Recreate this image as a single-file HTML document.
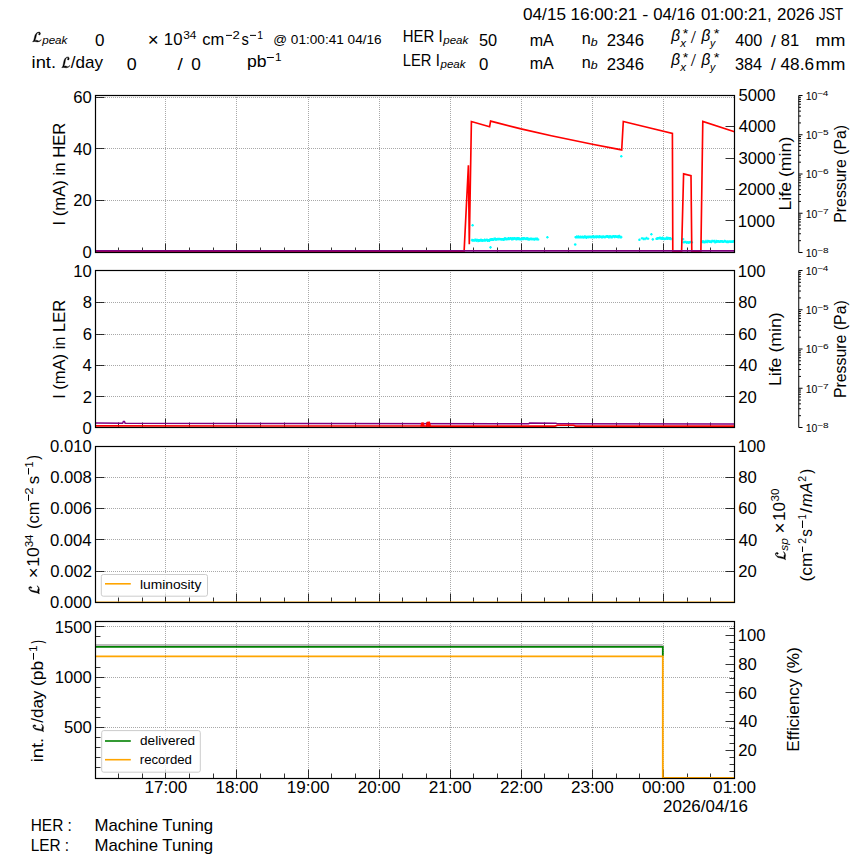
<!DOCTYPE html>
<html><head><meta charset="utf-8"><style>html,body{margin:0;padding:0;background:#fff;overflow:hidden}svg{display:block}</style></head><body>
<svg width="864" height="864" viewBox="0 0 864 864" font-family='"Liberation Sans", sans-serif'>
<rect width="864" height="864" fill="#fff"/>
<text x="523.01" y="19.90" font-size="17.25" textLength="43.01" lengthAdjust="spacingAndGlyphs">04/15</text>
<text x="570.39" y="19.90" font-size="17.25" textLength="66.94" lengthAdjust="spacingAndGlyphs">16:00:21</text>
<text x="642.21" y="19.90" font-size="17.25" textLength="6.08" lengthAdjust="spacingAndGlyphs">-</text>
<text x="653.13" y="19.90" font-size="17.25" textLength="41.94" lengthAdjust="spacingAndGlyphs">04/16</text>
<text x="700.92" y="19.90" font-size="17.25" textLength="70.82" lengthAdjust="spacingAndGlyphs">01:00:21,</text>
<text x="777.05" y="19.90" font-size="17.25" textLength="37.49" lengthAdjust="spacingAndGlyphs">2026</text>
<text x="818.80" y="19.90" font-size="17.25" textLength="24.33" lengthAdjust="spacingAndGlyphs">JST</text>
<path d="M63.6 -14.3 L65.3 -12.5 Q52.3 0.7 37.7 0.7 Q33.7 0.7 28.9 -0.4 Q21.8 -1.9 17.9 -1.9 Q15.7 -1.9 10.5 -1.0 Q5.3 -0.0 3.0 -0.0 L3.6 -2.4 Q9.1 -2.4 11.4 -11.7 L18.4 -40.1 Q20.1 -47.0 23.7 -52.4 Q27.3 -57.8 31.6 -60.8 Q36.0 -63.9 40.4 -65.5 Q44.8 -67.0 48.8 -67.0 Q53.8 -67.0 56.1 -63.8 Q58.5 -60.6 58.5 -56.0 Q58.5 -52.3 56.1 -50.0 Q53.8 -47.7 50.4 -47.7 Q48.2 -47.7 46.8 -49.2 Q45.4 -50.7 45.4 -52.8 Q45.4 -54.4 46.2 -55.5 Q47.0 -56.6 47.9 -56.9 Q48.8 -57.3 49.6 -57.9 Q50.4 -58.5 50.4 -59.2 Q50.4 -63.0 44.6 -63.0 Q39.4 -63.0 36.1 -59.1 Q32.8 -55.3 31.1 -48.9 Q29.4 -42.6 28.0 -35.7 Q26.7 -28.8 24.2 -21.3 Q21.7 -13.8 18.1 -9.2 L18.1 -8.8 Q21.3 -11.0 29.5 -11.0 Q34.8 -11.0 38.4 -8.5 Q42.1 -6.0 46.3 -6.0 Q54.8 -6.0 63.6 -14.3 Z" transform="translate(32.18 41.80) scale(0.1413 0.1448)" fill="#000" stroke="#000" stroke-width="2.6"/>
<text x="42.17" y="43.80" font-size="10.75" font-style="italic" textLength="25.25" lengthAdjust="spacingAndGlyphs">peak</text>
<text x="95.05" y="45.71" font-size="16.50" textLength="9.48" lengthAdjust="spacingAndGlyphs">0</text>
<text x="147.67" y="45.98" font-size="18.50" textLength="10.95" lengthAdjust="spacingAndGlyphs">×</text>
<text x="163.85" y="44.50" font-size="16.75" textLength="18.58" lengthAdjust="spacingAndGlyphs">10</text>
<text x="183.16" y="38.98" font-size="11.75" textLength="13.27" lengthAdjust="spacingAndGlyphs">34</text>
<text x="202.22" y="44.90" font-size="16.75" textLength="22.04" lengthAdjust="spacingAndGlyphs">cm</text>
<path d="M226.00 35.40H232.00" stroke="#000" stroke-width="1.0"/>
<text x="232.47" y="39.24" font-size="11.75" textLength="7.30" lengthAdjust="spacingAndGlyphs">2</text>
<text x="241.42" y="44.90" font-size="16.75" textLength="7.33" lengthAdjust="spacingAndGlyphs">s</text>
<path d="M250.00 35.40H256.00" stroke="#000" stroke-width="1.0"/>
<text x="257.22" y="38.98" font-size="11.75" textLength="5.81" lengthAdjust="spacingAndGlyphs">1</text>
<text x="273.25" y="44.36" font-size="13.00" textLength="108.44" lengthAdjust="spacingAndGlyphs">@ 01:00:41 04/16</text>
<text x="402.75" y="41.90" font-size="17.25" textLength="39.86" lengthAdjust="spacingAndGlyphs">HER I</text>
<text x="443.27" y="43.75" font-size="10.75" font-style="italic" textLength="25.06" lengthAdjust="spacingAndGlyphs">peak</text>
<text x="478.92" y="45.71" font-size="16.50" textLength="18.18" lengthAdjust="spacingAndGlyphs">50</text>
<text x="529.64" y="45.80" font-size="17.00" textLength="24.06" lengthAdjust="spacingAndGlyphs">mA</text>
<text x="581.81" y="43.90" font-size="16.75" textLength="9.02" lengthAdjust="spacingAndGlyphs">n</text>
<text x="590.75" y="45.80" font-size="10.25" font-style="italic" textLength="6.84" lengthAdjust="spacingAndGlyphs">b</text>
<text x="606.67" y="46.06" font-size="16.50" textLength="37.31" lengthAdjust="spacingAndGlyphs">2346</text>
<text x="671.36" y="41.46" font-size="16.00" font-style="italic" textLength="8.82" lengthAdjust="spacingAndGlyphs">β</text>
<text x="680.22" y="46.82" font-size="10.25" font-style="italic" textLength="5.79" lengthAdjust="spacingAndGlyphs">x</text>
<text x="682.80" y="37.96" font-size="13.00" textLength="5.50" lengthAdjust="spacingAndGlyphs">*</text>
<text x="691.57" y="42.61" font-size="17.00" font-style="italic" textLength="3.38" lengthAdjust="spacingAndGlyphs">/</text>
<text x="701.46" y="41.46" font-size="16.00" font-style="italic" textLength="8.82" lengthAdjust="spacingAndGlyphs">β</text>
<text x="710.08" y="46.81" font-size="10.25" font-style="italic" textLength="5.30" lengthAdjust="spacingAndGlyphs">y</text>
<text x="713.69" y="37.96" font-size="13.00" textLength="5.72" lengthAdjust="spacingAndGlyphs">*</text>
<text x="735.23" y="45.91" font-size="16.50" textLength="27.05" lengthAdjust="spacingAndGlyphs">400</text>
<text x="771.00" y="47.08" font-size="16.50" textLength="4.82" lengthAdjust="spacingAndGlyphs">/</text>
<text x="780.71" y="45.91" font-size="16.50" textLength="18.38" lengthAdjust="spacingAndGlyphs">81</text>
<text x="815.60" y="45.80" font-size="16.75" textLength="29.77" lengthAdjust="spacingAndGlyphs">mm</text>
<text x="31.58" y="67.80" font-size="17.00" textLength="24.49" lengthAdjust="spacingAndGlyphs">int.</text>
<path d="M63.6 -14.3 L65.3 -12.5 Q52.3 0.7 37.7 0.7 Q33.7 0.7 28.9 -0.4 Q21.8 -1.9 17.9 -1.9 Q15.7 -1.9 10.5 -1.0 Q5.3 -0.0 3.0 -0.0 L3.6 -2.4 Q9.1 -2.4 11.4 -11.7 L18.4 -40.1 Q20.1 -47.0 23.7 -52.4 Q27.3 -57.8 31.6 -60.8 Q36.0 -63.9 40.4 -65.5 Q44.8 -67.0 48.8 -67.0 Q53.8 -67.0 56.1 -63.8 Q58.5 -60.6 58.5 -56.0 Q58.5 -52.3 56.1 -50.0 Q53.8 -47.7 50.4 -47.7 Q48.2 -47.7 46.8 -49.2 Q45.4 -50.7 45.4 -52.8 Q45.4 -54.4 46.2 -55.5 Q47.0 -56.6 47.9 -56.9 Q48.8 -57.3 49.6 -57.9 Q50.4 -58.5 50.4 -59.2 Q50.4 -63.0 44.6 -63.0 Q39.4 -63.0 36.1 -59.1 Q32.8 -55.3 31.1 -48.9 Q29.4 -42.6 28.0 -35.7 Q26.7 -28.8 24.2 -21.3 Q21.7 -13.8 18.1 -9.2 L18.1 -8.8 Q21.3 -11.0 29.5 -11.0 Q34.8 -11.0 38.4 -8.5 Q42.1 -6.0 46.3 -6.0 Q54.8 -6.0 63.6 -14.3 Z" transform="translate(61.40 67.69) scale(0.1332 0.1610)" fill="#000" stroke="#000" stroke-width="2.6"/>
<text x="70.80" y="67.80" font-size="17.00" textLength="32.27" lengthAdjust="spacingAndGlyphs">/day</text>
<text x="126.82" y="69.96" font-size="16.50" textLength="9.94" lengthAdjust="spacingAndGlyphs">0</text>
<text x="177.60" y="70.38" font-size="16.50" textLength="5.32" lengthAdjust="spacingAndGlyphs">/</text>
<text x="191.25" y="69.81" font-size="16.50" textLength="9.60" lengthAdjust="spacingAndGlyphs">0</text>
<text x="246.97" y="66.75" font-size="16.50" textLength="19.54" lengthAdjust="spacingAndGlyphs">pb</text>
<path d="M266.90 57.50H273.90" stroke="#000" stroke-width="1.0"/>
<text x="275.02" y="60.98" font-size="11.75" textLength="6.58" lengthAdjust="spacingAndGlyphs">1</text>
<text x="402.77" y="65.70" font-size="17.25" textLength="36.99" lengthAdjust="spacingAndGlyphs">LER I</text>
<text x="440.47" y="67.50" font-size="10.75" font-style="italic" textLength="25.06" lengthAdjust="spacingAndGlyphs">peak</text>
<text x="478.96" y="69.91" font-size="16.50" textLength="9.36" lengthAdjust="spacingAndGlyphs">0</text>
<text x="529.64" y="69.40" font-size="17.00" textLength="24.06" lengthAdjust="spacingAndGlyphs">mA</text>
<text x="581.81" y="67.50" font-size="16.75" textLength="9.02" lengthAdjust="spacingAndGlyphs">n</text>
<text x="590.75" y="69.40" font-size="10.25" font-style="italic" textLength="6.84" lengthAdjust="spacingAndGlyphs">b</text>
<text x="606.67" y="69.56" font-size="16.50" textLength="37.31" lengthAdjust="spacingAndGlyphs">2346</text>
<text x="671.36" y="65.26" font-size="16.00" font-style="italic" textLength="8.82" lengthAdjust="spacingAndGlyphs">β</text>
<text x="680.22" y="70.62" font-size="10.25" font-style="italic" textLength="5.79" lengthAdjust="spacingAndGlyphs">x</text>
<text x="682.80" y="61.76" font-size="13.00" textLength="5.50" lengthAdjust="spacingAndGlyphs">*</text>
<text x="691.57" y="66.41" font-size="17.00" font-style="italic" textLength="3.38" lengthAdjust="spacingAndGlyphs">/</text>
<text x="701.46" y="65.26" font-size="16.00" font-style="italic" textLength="8.82" lengthAdjust="spacingAndGlyphs">β</text>
<text x="710.08" y="70.61" font-size="10.25" font-style="italic" textLength="5.30" lengthAdjust="spacingAndGlyphs">y</text>
<text x="713.69" y="61.76" font-size="13.00" textLength="5.72" lengthAdjust="spacingAndGlyphs">*</text>
<text x="734.98" y="69.66" font-size="16.50" textLength="27.18" lengthAdjust="spacingAndGlyphs">384</text>
<text x="771.00" y="70.03" font-size="16.50" textLength="43.05" lengthAdjust="spacingAndGlyphs">/ 48.6</text>
<text x="815.60" y="69.60" font-size="16.75" textLength="29.77" lengthAdjust="spacingAndGlyphs">mm</text>
<path d="M165.50 97V252.50 M236.50 97V252.50 M308.50 97V252.50 M379.50 97V252.50 M450.50 97V252.50 M521.50 97V252.50 M592.50 97V252.50 M663.50 97V252.50 M97 200.50H734.50 M97 148.50H734.50 M97 97.50H734.50" stroke="#a8a8a8" stroke-width="1" stroke-dasharray="1 1" fill="none"/>
<path d="M118.50 252.50v-5 M142.50 252.50v-5 M165.50 252.50v-9 M189.50 252.50v-5 M213.50 252.50v-5 M236.50 252.50v-9 M260.50 252.50v-5 M284.50 252.50v-5 M308.50 252.50v-9 M331.50 252.50v-5 M355.50 252.50v-5 M379.50 252.50v-9 M402.50 252.50v-5 M426.50 252.50v-5 M450.50 252.50v-9 M473.50 252.50v-5 M497.50 252.50v-5 M521.50 252.50v-9 M544.50 252.50v-5 M568.50 252.50v-5 M592.50 252.50v-9 M616.50 252.50v-5 M639.50 252.50v-5 M663.50 252.50v-9 M687.50 252.50v-5 M710.50 252.50v-5" stroke="#000" stroke-width="0.8" fill="none"/>
<path d="M95.50 200.50h9 M95.50 148.50h9 M95.50 97.50h9" stroke="#000" stroke-width="0.8" fill="none"/>
<path d="M734.50 220.50h-9 M734.50 189.50h-9 M734.50 158.50h-9 M734.50 126.50h-9" stroke="#000" stroke-width="0.8" fill="none"/>
<path d="M470.7 240.1h2.6M472.0 238.8v2.6 M471.3 240.4h2.6M472.6 239.1v2.6 M471.9 240.2h2.6M473.2 238.9v2.6 M472.5 240.5h2.6M473.8 239.2v2.6 M473.1 240.5h2.6M474.4 239.2v2.6 M473.7 239.9h2.6M475.0 238.6v2.6 M474.3 239.8h2.6M475.6 238.5v2.6 M474.9 240.7h2.6M476.2 239.4v2.6 M475.5 240.1h2.6M476.8 238.8v2.6 M476.1 240.0h2.6M477.4 238.7v2.6 M476.7 240.9h2.6M478.0 239.6v2.6 M477.3 240.3h2.6M478.6 239.0v2.6 M477.9 240.7h2.6M479.2 239.4v2.6 M478.5 240.3h2.6M479.8 239.0v2.6 M479.1 240.5h2.6M480.4 239.2v2.6 M479.7 239.9h2.6M481.0 238.6v2.6 M480.3 240.4h2.6M481.6 239.1v2.6 M480.9 240.7h2.6M482.2 239.4v2.6 M481.5 240.3h2.6M482.8 239.0v2.6 M482.1 240.5h2.6M483.4 239.2v2.6 M482.7 240.5h2.6M484.0 239.2v2.6 M483.3 239.8h2.6M484.6 238.5v2.6 M483.9 240.5h2.6M485.2 239.2v2.6 M484.5 240.3h2.6M485.8 239.0v2.6 M485.1 240.0h2.6M486.4 238.7v2.6 M485.7 239.7h2.6M487.0 238.4v2.6 M486.3 240.6h2.6M487.6 239.3v2.6 M486.9 240.2h2.6M488.2 238.9v2.6 M487.5 240.5h2.6M488.8 239.2v2.6 M488.1 240.6h2.6M489.4 239.3v2.6 M488.7 239.6h2.6M490.0 238.3v2.6 M489.3 239.8h2.6M490.6 238.5v2.6 M489.9 239.3h2.6M491.2 238.0v2.6 M490.5 239.7h2.6M491.8 238.4v2.6 M491.1 239.3h2.6M492.4 238.0v2.6 M491.7 239.8h2.6M493.0 238.5v2.6 M492.3 239.7h2.6M493.6 238.4v2.6 M492.9 238.8h2.6M494.2 237.5v2.6 M493.5 238.9h2.6M494.8 237.6v2.6 M494.1 238.9h2.6M495.4 237.6v2.6 M494.7 239.8h2.6M496.0 238.5v2.6 M495.3 239.2h2.6M496.6 237.9v2.6 M495.9 239.3h2.6M497.2 238.0v2.6 M496.5 239.0h2.6M497.8 237.7v2.6 M497.1 239.2h2.6M498.4 237.9v2.6 M497.7 239.0h2.6M499.0 237.7v2.6 M498.3 239.0h2.6M499.6 237.7v2.6 M498.9 239.2h2.6M500.2 237.9v2.6 M499.5 239.2h2.6M500.8 237.9v2.6 M500.1 239.5h2.6M501.4 238.2v2.6 M500.7 239.3h2.6M502.0 238.0v2.6 M501.3 239.5h2.6M502.6 238.2v2.6 M501.9 239.4h2.6M503.2 238.1v2.6 M502.5 239.6h2.6M503.8 238.3v2.6 M503.1 239.2h2.6M504.4 237.9v2.6 M503.7 238.2h2.6M505.0 236.9v2.6 M504.3 239.0h2.6M505.6 237.7v2.6 M504.9 239.1h2.6M506.2 237.8v2.6 M505.5 239.1h2.6M506.8 237.8v2.6 M506.1 238.7h2.6M507.4 237.4v2.6 M506.7 238.9h2.6M508.0 237.6v2.6 M507.3 238.3h2.6M508.6 237.0v2.6 M507.9 239.0h2.6M509.2 237.7v2.6 M508.5 238.7h2.6M509.8 237.4v2.6 M509.1 238.4h2.6M510.4 237.1v2.6 M509.7 238.2h2.6M511.0 236.9v2.6 M510.3 239.1h2.6M511.6 237.8v2.6 M510.9 239.2h2.6M512.2 237.9v2.6 M511.5 238.2h2.6M512.8 236.9v2.6 M512.1 239.0h2.6M513.4 237.7v2.6 M512.7 238.6h2.6M514.0 237.3v2.6 M513.3 238.3h2.6M514.6 237.0v2.6 M513.9 238.5h2.6M515.2 237.2v2.6 M514.5 239.0h2.6M515.8 237.7v2.6 M515.1 239.1h2.6M516.4 237.8v2.6 M515.7 238.2h2.6M517.0 236.9v2.6 M516.3 238.9h2.6M517.6 237.6v2.6 M516.9 238.3h2.6M518.2 237.0v2.6 M517.5 239.0h2.6M518.8 237.7v2.6 M518.1 238.6h2.6M519.4 237.3v2.6 M518.7 239.2h2.6M520.0 237.9v2.6 M519.3 239.3h2.6M520.6 238.0v2.6 M519.9 238.8h2.6M521.2 237.5v2.6 M520.5 239.3h2.6M521.8 238.0v2.6 M521.1 238.6h2.6M522.4 237.3v2.6 M521.7 238.3h2.6M523.0 237.0v2.6 M522.3 238.9h2.6M523.6 237.6v2.6 M522.9 238.3h2.6M524.2 237.0v2.6 M523.5 238.5h2.6M524.8 237.2v2.6 M524.1 238.7h2.6M525.4 237.4v2.6 M524.7 239.0h2.6M526.0 237.7v2.6 M525.3 238.5h2.6M526.6 237.2v2.6 M525.9 238.4h2.6M527.2 237.1v2.6 M526.5 239.3h2.6M527.8 238.0v2.6 M527.1 238.7h2.6M528.4 237.4v2.6 M527.7 239.4h2.6M529.0 238.1v2.6 M528.3 239.3h2.6M529.6 238.0v2.6 M528.9 238.8h2.6M530.2 237.5v2.6 M529.5 238.9h2.6M530.8 237.6v2.6 M530.1 238.9h2.6M531.4 237.6v2.6 M530.7 239.1h2.6M532.0 237.8v2.6 M531.3 239.0h2.6M532.6 237.7v2.6 M531.9 239.0h2.6M533.2 237.7v2.6 M532.5 239.1h2.6M533.8 237.8v2.6 M533.1 239.4h2.6M534.4 238.1v2.6 M533.7 239.0h2.6M535.0 237.7v2.6 M534.3 238.9h2.6M535.6 237.6v2.6 M534.9 239.2h2.6M536.2 237.9v2.6 M535.5 238.7h2.6M536.8 237.4v2.6 M536.1 238.8h2.6M537.4 237.5v2.6 M536.7 239.5h2.6M538.0 238.2v2.6 M574.3 237.2h2.6M575.6 235.9v2.6 M574.9 237.2h2.6M576.2 235.9v2.6 M575.5 236.6h2.6M576.8 235.3v2.6 M576.1 237.1h2.6M577.4 235.8v2.6 M576.7 237.3h2.6M578.0 236.0v2.6 M577.3 236.6h2.6M578.6 235.3v2.6 M577.9 237.3h2.6M579.2 236.0v2.6 M578.5 237.3h2.6M579.8 236.0v2.6 M579.1 236.7h2.6M580.4 235.4v2.6 M579.7 237.3h2.6M581.0 236.0v2.6 M580.3 237.1h2.6M581.6 235.8v2.6 M580.9 237.3h2.6M582.2 236.0v2.6 M581.5 236.9h2.6M582.8 235.6v2.6 M582.1 237.3h2.6M583.4 236.0v2.6 M582.7 237.4h2.6M584.0 236.1v2.6 M583.3 236.6h2.6M584.6 235.3v2.6 M583.9 236.6h2.6M585.2 235.3v2.6 M584.5 237.3h2.6M585.8 236.0v2.6 M585.1 237.6h2.6M586.4 236.3v2.6 M585.7 236.8h2.6M587.0 235.5v2.6 M586.3 237.0h2.6M587.6 235.7v2.6 M586.9 237.1h2.6M588.2 235.8v2.6 M587.5 236.8h2.6M588.8 235.5v2.6 M588.1 236.9h2.6M589.4 235.6v2.6 M588.7 236.8h2.6M590.0 235.5v2.6 M589.3 236.9h2.6M590.6 235.6v2.6 M589.9 237.1h2.6M591.2 235.8v2.6 M590.5 236.8h2.6M591.8 235.5v2.6 M591.1 236.8h2.6M592.4 235.5v2.6 M591.7 237.3h2.6M593.0 236.0v2.6 M592.3 236.4h2.6M593.6 235.1v2.6 M592.9 237.0h2.6M594.2 235.7v2.6 M593.5 237.2h2.6M594.8 235.9v2.6 M594.1 236.7h2.6M595.4 235.4v2.6 M594.7 236.6h2.6M596.0 235.3v2.6 M595.3 237.3h2.6M596.6 236.0v2.6 M595.9 236.6h2.6M597.2 235.3v2.6 M596.5 236.6h2.6M597.8 235.3v2.6 M597.1 236.8h2.6M598.4 235.5v2.6 M597.7 237.1h2.6M599.0 235.8v2.6 M598.3 236.4h2.6M599.6 235.1v2.6 M598.9 236.7h2.6M600.2 235.4v2.6 M599.5 236.7h2.6M600.8 235.4v2.6 M600.1 237.2h2.6M601.4 235.9v2.6 M600.7 236.8h2.6M602.0 235.5v2.6 M601.3 237.2h2.6M602.6 235.9v2.6 M601.9 236.5h2.6M603.2 235.2v2.6 M602.5 236.7h2.6M603.8 235.4v2.6 M603.1 237.0h2.6M604.4 235.7v2.6 M603.7 237.2h2.6M605.0 235.9v2.6 M604.3 236.8h2.6M605.6 235.5v2.6 M604.9 236.5h2.6M606.2 235.2v2.6 M605.5 236.4h2.6M606.8 235.1v2.6 M606.1 236.8h2.6M607.4 235.5v2.6 M606.7 236.4h2.6M608.0 235.1v2.6 M607.3 237.1h2.6M608.6 235.8v2.6 M607.9 237.1h2.6M609.2 235.8v2.6 M608.5 236.4h2.6M609.8 235.1v2.6 M609.1 236.5h2.6M610.4 235.2v2.6 M609.7 237.1h2.6M611.0 235.8v2.6 M610.3 236.9h2.6M611.6 235.6v2.6 M610.9 237.1h2.6M612.2 235.8v2.6 M611.5 236.5h2.6M612.8 235.2v2.6 M612.1 236.3h2.6M613.4 235.0v2.6 M612.7 236.5h2.6M614.0 235.2v2.6 M613.3 237.0h2.6M614.6 235.7v2.6 M613.9 236.4h2.6M615.2 235.1v2.6 M614.5 236.5h2.6M615.8 235.2v2.6 M615.1 236.6h2.6M616.4 235.3v2.6 M615.7 236.6h2.6M617.0 235.3v2.6 M616.3 236.5h2.6M617.6 235.2v2.6 M616.9 237.1h2.6M618.2 235.8v2.6 M617.5 236.3h2.6M618.8 235.0v2.6 M618.1 236.1h2.6M619.4 234.8v2.6 M618.7 237.1h2.6M620.0 235.8v2.6 M619.3 237.0h2.6M620.6 235.7v2.6 M619.9 237.1h2.6M621.2 235.8v2.6 M640.7 238.3h2.6M642.0 237.0v2.6 M642.2 238.9h2.6M643.5 237.6v2.6 M643.7 238.9h2.6M645.0 237.6v2.6 M645.2 238.1h2.6M646.5 236.8v2.6 M646.7 238.7h2.6M648.0 237.4v2.6 M655.2 238.8h2.6M656.5 237.5v2.6 M655.8 238.6h2.6M657.1 237.3v2.6 M656.4 238.4h2.6M657.7 237.1v2.6 M657.0 238.2h2.6M658.3 236.9v2.6 M657.6 238.2h2.6M658.9 236.9v2.6 M658.2 238.1h2.6M659.5 236.8v2.6 M658.8 237.9h2.6M660.1 236.6v2.6 M659.4 238.5h2.6M660.7 237.2v2.6 M660.0 238.2h2.6M661.3 236.9v2.6 M660.6 238.7h2.6M661.9 237.4v2.6 M661.2 237.9h2.6M662.5 236.6v2.6 M661.8 238.8h2.6M663.1 237.5v2.6 M662.4 238.6h2.6M663.7 237.3v2.6 M663.0 238.9h2.6M664.3 237.6v2.6 M663.6 238.8h2.6M664.9 237.5v2.6 M664.2 238.8h2.6M665.5 237.5v2.6 M664.8 238.5h2.6M666.1 237.2v2.6 M665.4 237.9h2.6M666.7 236.6v2.6 M666.0 238.7h2.6M667.3 237.4v2.6 M666.6 238.0h2.6M667.9 236.7v2.6 M667.2 238.2h2.6M668.5 236.9v2.6 M667.8 238.6h2.6M669.1 237.3v2.6 M668.4 238.4h2.6M669.7 237.1v2.6 M669.0 238.3h2.6M670.3 237.0v2.6 M669.6 238.9h2.6M670.9 237.6v2.6 M682.5 242.3h2.6M683.8 241.0v2.6 M683.5 242.0h2.6M684.8 240.7v2.6 M684.5 242.0h2.6M685.8 240.7v2.6 M685.5 242.7h2.6M686.8 241.4v2.6 M686.5 242.3h2.6M687.8 241.0v2.6 M687.5 242.6h2.6M688.8 241.3v2.6 M688.5 242.2h2.6M689.8 240.9v2.6 M689.5 242.0h2.6M690.8 240.7v2.6 M690.5 242.4h2.6M691.8 241.1v2.6 M701.1 241.9h2.6M702.4 240.6v2.6 M701.7 241.2h2.6M703.0 239.9v2.6 M702.3 241.9h2.6M703.6 240.6v2.6 M702.9 242.1h2.6M704.2 240.8v2.6 M703.5 241.9h2.6M704.8 240.6v2.6 M704.1 242.0h2.6M705.4 240.7v2.6 M704.7 241.1h2.6M706.0 239.8v2.6 M705.3 241.7h2.6M706.6 240.4v2.6 M705.9 242.0h2.6M707.2 240.7v2.6 M706.5 241.1h2.6M707.8 239.8v2.6 M707.1 241.3h2.6M708.4 240.0v2.6 M707.7 241.3h2.6M709.0 240.0v2.6 M708.3 241.6h2.6M709.6 240.3v2.6 M708.9 241.5h2.6M710.2 240.2v2.6 M709.5 241.6h2.6M710.8 240.3v2.6 M710.1 241.9h2.6M711.4 240.6v2.6 M710.7 241.1h2.6M712.0 239.8v2.6 M711.3 241.1h2.6M712.6 239.8v2.6 M711.9 241.2h2.6M713.2 239.9v2.6 M712.5 241.2h2.6M713.8 239.9v2.6 M713.1 241.1h2.6M714.4 239.8v2.6 M713.7 242.1h2.6M715.0 240.8v2.6 M714.3 242.0h2.6M715.6 240.7v2.6 M714.9 241.1h2.6M716.2 239.8v2.6 M715.5 241.6h2.6M716.8 240.3v2.6 M716.1 241.4h2.6M717.4 240.1v2.6 M716.7 241.4h2.6M718.0 240.1v2.6 M717.3 241.4h2.6M718.6 240.1v2.6 M717.9 241.8h2.6M719.2 240.5v2.6 M718.5 241.7h2.6M719.8 240.4v2.6 M719.1 241.4h2.6M720.4 240.1v2.6 M719.7 241.3h2.6M721.0 240.0v2.6 M720.3 241.4h2.6M721.6 240.1v2.6 M720.9 241.2h2.6M722.2 239.9v2.6 M721.5 241.7h2.6M722.8 240.4v2.6 M722.1 241.8h2.6M723.4 240.5v2.6 M722.7 241.5h2.6M724.0 240.2v2.6 M723.3 241.1h2.6M724.6 239.8v2.6 M723.9 241.2h2.6M725.2 239.9v2.6 M724.5 241.5h2.6M725.8 240.2v2.6 M725.1 241.7h2.6M726.4 240.4v2.6 M725.7 241.9h2.6M727.0 240.6v2.6 M726.3 241.5h2.6M727.6 240.2v2.6 M726.9 241.9h2.6M728.2 240.6v2.6 M727.5 241.7h2.6M728.8 240.4v2.6 M728.1 241.5h2.6M729.4 240.2v2.6 M728.7 241.5h2.6M730.0 240.2v2.6 M729.3 241.6h2.6M730.6 240.3v2.6 M729.9 241.8h2.6M731.2 240.5v2.6 M730.5 241.5h2.6M731.8 240.2v2.6 M731.1 241.8h2.6M732.4 240.5v2.6 M731.7 241.6h2.6M733.0 240.3v2.6 M732.3 241.3h2.6M733.6 240.0v2.6 M471.3 225.3h2.6M472.6 224.0v2.6 M489.2 247.4h2.6M490.5 246.1v2.6 M546.1 237.3h2.6M547.4 236.0v2.6 M573.9 244.5h2.6M575.2 243.2v2.6 M620.0 156.3h2.6M621.3 155.0v2.6 M638.1 239.8h2.6M639.4 238.5v2.6 M650.1 234.3h2.6M651.4 233.0v2.6 M651.5 239.4h2.6M652.8 238.1v2.6 M681.7 239.2h2.6M683.0 237.9v2.6" stroke="#00ffff" stroke-width="1.3" fill="none"/>
<polyline points="95.50,251.60 464.10,251.60 468.40,165.20 469.30,244.20 471.40,121.50 489.60,126.80 490.60,121.10 521.00,128.90 551.30,135.70 592.40,144.20 621.70,149.90 623.30,121.50 648.00,127.50 672.40,133.40 672.80,251.60 681.60,251.60 683.60,173.90 691.00,175.60 691.80,251.60 700.90,251.60 702.80,121.50 734.50,131.70" stroke="#ff0000" stroke-width="1.65" fill="none"/>
<path d="M95.5 250.9H734.5" stroke="#800080" stroke-width="1.7" fill="none"/>
<rect x="95.50" y="95.50" width="639.00" height="157.00" fill="none" stroke="#000" stroke-width="1.2"/>
<text x="73.26" y="103.15" font-size="16.67">60</text>
<text x="73.26" y="154.65" font-size="16.67">40</text>
<text x="73.26" y="206.15" font-size="16.67">20</text>
<text x="82.58" y="257.65" font-size="16.67">0</text>
<text x="737.85" y="226.55" font-size="16.67">1000</text>
<text x="738.29" y="195.15" font-size="16.67">2000</text>
<text x="738.48" y="163.75" font-size="16.67">3000</text>
<text x="738.73" y="132.35" font-size="16.67">4000</text>
<text x="738.41" y="100.95" font-size="16.67">5000</text>
<g transform="translate(64.90 173.70) rotate(-90)">
<text x="-51.91" y="0.00" font-size="16.67" textLength="103.05" lengthAdjust="spacingAndGlyphs">I (mA) in HER</text>
</g>
<g transform="translate(791.00 173.45) rotate(-90)">
<text x="-37.11" y="0.00" font-size="16.67" textLength="73.87" lengthAdjust="spacingAndGlyphs">Life (min)</text>
</g>
<text x="805.79" y="256.94" font-size="10.50" textLength="11.64" lengthAdjust="spacingAndGlyphs">10</text>
<text x="817.05" y="252.81" font-size="7.00" textLength="11.47" lengthAdjust="spacingAndGlyphs">−8</text>
<text x="805.79" y="217.69" font-size="10.50" textLength="11.64" lengthAdjust="spacingAndGlyphs">10</text>
<text x="817.05" y="213.56" font-size="7.00" textLength="11.57" lengthAdjust="spacingAndGlyphs">−7</text>
<text x="805.79" y="178.44" font-size="10.50" textLength="11.64" lengthAdjust="spacingAndGlyphs">10</text>
<text x="817.05" y="174.31" font-size="7.00" textLength="11.57" lengthAdjust="spacingAndGlyphs">−6</text>
<text x="805.79" y="139.19" font-size="10.50" textLength="11.64" lengthAdjust="spacingAndGlyphs">10</text>
<text x="817.05" y="135.02" font-size="7.00" textLength="11.47" lengthAdjust="spacingAndGlyphs">−5</text>
<text x="805.79" y="99.94" font-size="10.50" textLength="11.64" lengthAdjust="spacingAndGlyphs">10</text>
<text x="817.05" y="95.81" font-size="7.00" textLength="11.38" lengthAdjust="spacingAndGlyphs">−4</text>
<path d="M798.75 95.50V252.50 M798.75 252.50h3.8 M798.75 240.68h2.2 M798.75 233.77h2.2 M798.75 228.87h2.2 M798.75 225.07h2.2 M798.75 221.96h2.2 M798.75 219.33h2.2 M798.75 217.05h2.2 M798.75 215.05h2.2 M798.75 213.25h3.8 M798.75 201.43h2.2 M798.75 194.52h2.2 M798.75 189.62h2.2 M798.75 185.82h2.2 M798.75 182.71h2.2 M798.75 180.08h2.2 M798.75 177.80h2.2 M798.75 175.80h2.2 M798.75 174.00h3.8 M798.75 162.18h2.2 M798.75 155.27h2.2 M798.75 150.37h2.2 M798.75 146.57h2.2 M798.75 143.46h2.2 M798.75 140.83h2.2 M798.75 138.55h2.2 M798.75 136.55h2.2 M798.75 134.75h3.8 M798.75 122.93h2.2 M798.75 116.02h2.2 M798.75 111.12h2.2 M798.75 107.32h2.2 M798.75 104.21h2.2 M798.75 101.58h2.2 M798.75 99.30h2.2 M798.75 97.30h2.2 M798.75 95.50h3.8" stroke="#000" stroke-width="1" fill="none"/>
<g transform="translate(846.00 173.70) rotate(-90)">
<text x="-49.11" y="0.00" font-size="16.67" textLength="97.92" lengthAdjust="spacingAndGlyphs">Pressure (Pa)</text>
</g>
<path d="M165.50 272V427.50 M236.50 272V427.50 M308.50 272V427.50 M379.50 272V427.50 M450.50 272V427.50 M521.50 272V427.50 M592.50 272V427.50 M663.50 272V427.50 M97 396.50H734.50 M97 365.50H734.50 M97 334.50H734.50 M97 302.50H734.50" stroke="#a8a8a8" stroke-width="1" stroke-dasharray="1 1" fill="none"/>
<path d="M118.50 427.50v-5 M142.50 427.50v-5 M165.50 427.50v-9 M189.50 427.50v-5 M213.50 427.50v-5 M236.50 427.50v-9 M260.50 427.50v-5 M284.50 427.50v-5 M308.50 427.50v-9 M331.50 427.50v-5 M355.50 427.50v-5 M379.50 427.50v-9 M402.50 427.50v-5 M426.50 427.50v-5 M450.50 427.50v-9 M473.50 427.50v-5 M497.50 427.50v-5 M521.50 427.50v-9 M544.50 427.50v-5 M568.50 427.50v-5 M592.50 427.50v-9 M616.50 427.50v-5 M639.50 427.50v-5 M663.50 427.50v-9 M687.50 427.50v-5 M710.50 427.50v-5" stroke="#000" stroke-width="0.8" fill="none"/>
<path d="M95.50 396.50h9 M95.50 365.50h9 M95.50 334.50h9 M95.50 302.50h9" stroke="#000" stroke-width="0.8" fill="none"/>
<path d="M734.50 396.50h-9 M734.50 365.50h-9 M734.50 334.50h-9 M734.50 302.50h-9" stroke="#000" stroke-width="0.8" fill="none"/>
<polyline points="95.50,423.10 122.60,423.20 123.40,421.40 124.40,421.40 125.20,423.30 300.00,423.60 528.70,423.80 529.50,423.10 556.00,423.20 557.00,423.80 734.50,424.00" stroke="#800080" stroke-width="1.5" fill="none"/>
<polyline points="95.50,425.90 420.00,426.00 431.50,426.10 555.00,426.10 557.50,425.20 573.50,425.20 575.50,426.10 734.50,426.10" stroke="#ff0000" stroke-width="1.6" fill="none"/>
<path d="M420.2 426.6L421.2 422.6L423.6 422.3L424.9 426.6ZM425.5 426.6L426.8 421.7L429.9 421.5L431.2 426.6Z" fill="#ff0000"/>
<rect x="95.50" y="270.50" width="639.00" height="157.00" fill="none" stroke="#000" stroke-width="1.2"/>
<text x="82.58" y="433.85" font-size="16.67">0</text>
<text x="82.76" y="402.50" font-size="16.67">2</text>
<text x="82.39" y="371.15" font-size="16.67">4</text>
<text x="82.64" y="339.80" font-size="16.67">6</text>
<text x="82.64" y="308.45" font-size="16.67">8</text>
<text x="73.26" y="277.10" font-size="16.67">10</text>
<text x="738.29" y="402.50" font-size="16.67">20</text>
<text x="738.73" y="371.15" font-size="16.67">40</text>
<text x="738.29" y="339.80" font-size="16.67">60</text>
<text x="738.35" y="308.45" font-size="16.67">80</text>
<text x="737.85" y="277.10" font-size="16.67">100</text>
<g transform="translate(64.90 349.00) rotate(-90)">
<text x="-49.79" y="0.00" font-size="16.67" textLength="98.86" lengthAdjust="spacingAndGlyphs">I (mA) in LER</text>
</g>
<g transform="translate(781.00 349.00) rotate(-90)">
<text x="-37.11" y="0.00" font-size="16.67" textLength="73.87" lengthAdjust="spacingAndGlyphs">Life (min)</text>
</g>
<text x="805.79" y="431.94" font-size="10.50" textLength="11.64" lengthAdjust="spacingAndGlyphs">10</text>
<text x="817.05" y="427.81" font-size="7.00" textLength="11.47" lengthAdjust="spacingAndGlyphs">−8</text>
<text x="805.79" y="392.69" font-size="10.50" textLength="11.64" lengthAdjust="spacingAndGlyphs">10</text>
<text x="817.05" y="388.56" font-size="7.00" textLength="11.57" lengthAdjust="spacingAndGlyphs">−7</text>
<text x="805.79" y="353.44" font-size="10.50" textLength="11.64" lengthAdjust="spacingAndGlyphs">10</text>
<text x="817.05" y="349.31" font-size="7.00" textLength="11.57" lengthAdjust="spacingAndGlyphs">−6</text>
<text x="805.79" y="314.19" font-size="10.50" textLength="11.64" lengthAdjust="spacingAndGlyphs">10</text>
<text x="817.05" y="310.02" font-size="7.00" textLength="11.47" lengthAdjust="spacingAndGlyphs">−5</text>
<text x="805.79" y="274.94" font-size="10.50" textLength="11.64" lengthAdjust="spacingAndGlyphs">10</text>
<text x="817.05" y="270.81" font-size="7.00" textLength="11.38" lengthAdjust="spacingAndGlyphs">−4</text>
<path d="M798.75 270.50V427.50 M798.75 427.50h3.8 M798.75 415.68h2.2 M798.75 408.77h2.2 M798.75 403.87h2.2 M798.75 400.07h2.2 M798.75 396.96h2.2 M798.75 394.33h2.2 M798.75 392.05h2.2 M798.75 390.05h2.2 M798.75 388.25h3.8 M798.75 376.43h2.2 M798.75 369.52h2.2 M798.75 364.62h2.2 M798.75 360.82h2.2 M798.75 357.71h2.2 M798.75 355.08h2.2 M798.75 352.80h2.2 M798.75 350.80h2.2 M798.75 349.00h3.8 M798.75 337.18h2.2 M798.75 330.27h2.2 M798.75 325.37h2.2 M798.75 321.57h2.2 M798.75 318.46h2.2 M798.75 315.83h2.2 M798.75 313.55h2.2 M798.75 311.55h2.2 M798.75 309.75h3.8 M798.75 297.93h2.2 M798.75 291.02h2.2 M798.75 286.12h2.2 M798.75 282.32h2.2 M798.75 279.21h2.2 M798.75 276.58h2.2 M798.75 274.30h2.2 M798.75 272.30h2.2 M798.75 270.50h3.8" stroke="#000" stroke-width="1" fill="none"/>
<g transform="translate(846.00 349.00) rotate(-90)">
<text x="-49.11" y="0.00" font-size="16.67" textLength="97.92" lengthAdjust="spacingAndGlyphs">Pressure (Pa)</text>
</g>
<path d="M165.50 448V602.50 M236.50 448V602.50 M308.50 448V602.50 M379.50 448V602.50 M450.50 448V602.50 M521.50 448V602.50 M592.50 448V602.50 M663.50 448V602.50 M97 571.50H734.50 M97 539.50H734.50 M97 508.50H734.50 M97 477.50H734.50" stroke="#a8a8a8" stroke-width="1" stroke-dasharray="1 1" fill="none"/>
<path d="M118.50 602.50v-5 M142.50 602.50v-5 M165.50 602.50v-9 M189.50 602.50v-5 M213.50 602.50v-5 M236.50 602.50v-9 M260.50 602.50v-5 M284.50 602.50v-5 M308.50 602.50v-9 M331.50 602.50v-5 M355.50 602.50v-5 M379.50 602.50v-9 M402.50 602.50v-5 M426.50 602.50v-5 M450.50 602.50v-9 M473.50 602.50v-5 M497.50 602.50v-5 M521.50 602.50v-9 M544.50 602.50v-5 M568.50 602.50v-5 M592.50 602.50v-9 M616.50 602.50v-5 M639.50 602.50v-5 M663.50 602.50v-9 M687.50 602.50v-5 M710.50 602.50v-5" stroke="#000" stroke-width="0.8" fill="none"/>
<path d="M95.50 571.50h9 M95.50 539.50h9 M95.50 508.50h9 M95.50 477.50h9" stroke="#000" stroke-width="0.8" fill="none"/>
<path d="M734.50 571.50h-9 M734.50 539.50h-9 M734.50 508.50h-9 M734.50 477.50h-9" stroke="#000" stroke-width="0.8" fill="none"/>
<path d="M95.5 602.2H734.5" stroke="#ffa500" stroke-width="1.5" fill="none"/>
<rect x="95.50" y="446.50" width="639.00" height="156.00" fill="none" stroke="#000" stroke-width="1.2"/>
<text x="50.08" y="608.35" font-size="16.67">0.000</text>
<text x="50.26" y="577.02" font-size="16.67">0.002</text>
<text x="49.89" y="545.69" font-size="16.67">0.004</text>
<text x="50.14" y="514.36" font-size="16.67">0.006</text>
<text x="50.14" y="483.03" font-size="16.67">0.008</text>
<text x="50.08" y="451.70" font-size="16.67">0.010</text>
<text x="738.29" y="577.02" font-size="16.67">20</text>
<text x="738.73" y="545.69" font-size="16.67">40</text>
<text x="738.29" y="514.36" font-size="16.67">60</text>
<text x="738.35" y="483.03" font-size="16.67">80</text>
<text x="737.85" y="451.70" font-size="16.67">100</text>
<rect x="101.3" y="574.5" width="106.2" height="21.7" rx="2" fill="#fff" fill-opacity="0.8" stroke="#cccccc" stroke-width="1"/>
<path d="M105 583.8H130.8" stroke="#ffa500" stroke-width="1.6"/>
<text x="139.90" y="589.00" font-size="13.50" textLength="61.43" lengthAdjust="spacingAndGlyphs">luminosity</text>
<g transform="translate(39.00 593.10) rotate(-90)">
<path d="M63.6 -14.3 L65.3 -12.5 Q52.3 0.7 37.7 0.7 Q33.7 0.7 28.9 -0.4 Q21.8 -1.9 17.9 -1.9 Q15.7 -1.9 10.5 -1.0 Q5.3 -0.0 3.0 -0.0 L3.6 -2.4 Q9.1 -2.4 11.4 -11.7 L18.4 -40.1 Q20.1 -47.0 23.7 -52.4 Q27.3 -57.8 31.6 -60.8 Q36.0 -63.9 40.4 -65.5 Q44.8 -67.0 48.8 -67.0 Q53.8 -67.0 56.1 -63.8 Q58.5 -60.6 58.5 -56.0 Q58.5 -52.3 56.1 -50.0 Q53.8 -47.7 50.4 -47.7 Q48.2 -47.7 46.8 -49.2 Q45.4 -50.7 45.4 -52.8 Q45.4 -54.4 46.2 -55.5 Q47.0 -56.6 47.9 -56.9 Q48.8 -57.3 49.6 -57.9 Q50.4 -58.5 50.4 -59.2 Q50.4 -63.0 44.6 -63.0 Q39.4 -63.0 36.1 -59.1 Q32.8 -55.3 31.1 -48.9 Q29.4 -42.6 28.0 -35.7 Q26.7 -28.8 24.2 -21.3 Q21.7 -13.8 18.1 -9.2 L18.1 -8.8 Q21.3 -11.0 29.5 -11.0 Q34.8 -11.0 38.4 -8.5 Q42.1 -6.0 46.3 -6.0 Q54.8 -6.0 63.6 -14.3 Z" transform="translate(-1.30 0.29) scale(0.1332 0.1566)" fill="#000" stroke="#000" stroke-width="2.6"/>
<text x="14.87" y="0.10" font-size="16.75" textLength="10.92" lengthAdjust="spacingAndGlyphs">×</text>
<text x="26.39" y="-0.25" font-size="16.75" textLength="19.58" lengthAdjust="spacingAndGlyphs">10</text>
<text x="45.77" y="-5.92" font-size="11.75" textLength="12.84" lengthAdjust="spacingAndGlyphs">34</text>
<text x="64.16" y="0.00" font-size="16.75" textLength="27.20" lengthAdjust="spacingAndGlyphs">(cm</text>
<path d="M92.20 -10.50H98.50" stroke="#000" stroke-width="1.0"/>
<text x="98.36" y="-6.11" font-size="11.75" textLength="7.42" lengthAdjust="spacingAndGlyphs">2</text>
<text x="108.86" y="0.00" font-size="16.75" textLength="8.48" lengthAdjust="spacingAndGlyphs">s</text>
<path d="M118.60 -10.50H125.00" stroke="#000" stroke-width="1.0"/>
<text x="125.70" y="-6.17" font-size="11.75" textLength="5.94" lengthAdjust="spacingAndGlyphs">1</text>
<text x="133.30" y="0.00" font-size="16.75" textLength="4.65" lengthAdjust="spacingAndGlyphs">)</text>
</g>
<g transform="translate(785.10 560.00) rotate(-90)">
<path d="M63.6 -14.3 L65.3 -12.5 Q52.3 0.7 37.7 0.7 Q33.7 0.7 28.9 -0.4 Q21.8 -1.9 17.9 -1.9 Q15.7 -1.9 10.5 -1.0 Q5.3 -0.0 3.0 -0.0 L3.6 -2.4 Q9.1 -2.4 11.4 -11.7 L18.4 -40.1 Q20.1 -47.0 23.7 -52.4 Q27.3 -57.8 31.6 -60.8 Q36.0 -63.9 40.4 -65.5 Q44.8 -67.0 48.8 -67.0 Q53.8 -67.0 56.1 -63.8 Q58.5 -60.6 58.5 -56.0 Q58.5 -52.3 56.1 -50.0 Q53.8 -47.7 50.4 -47.7 Q48.2 -47.7 46.8 -49.2 Q45.4 -50.7 45.4 -52.8 Q45.4 -54.4 46.2 -55.5 Q47.0 -56.6 47.9 -56.9 Q48.8 -57.3 49.6 -57.9 Q50.4 -58.5 50.4 -59.2 Q50.4 -63.0 44.6 -63.0 Q39.4 -63.0 36.1 -59.1 Q32.8 -55.3 31.1 -48.9 Q29.4 -42.6 28.0 -35.7 Q26.7 -28.8 24.2 -21.3 Q21.7 -13.8 18.1 -9.2 L18.1 -8.8 Q21.3 -11.0 29.5 -11.0 Q34.8 -11.0 38.4 -8.5 Q42.1 -6.0 46.3 -6.0 Q54.8 -6.0 63.6 -14.3 Z" transform="translate(-0.30 0.39) scale(0.1332 0.1507)" fill="#000" stroke="#000" stroke-width="2.6"/>
<text x="9.23" y="3.00" font-size="11.25" font-style="italic" textLength="12.57" lengthAdjust="spacingAndGlyphs">sp</text>
<text x="26.57" y="1.08" font-size="18.50" textLength="10.95" lengthAdjust="spacingAndGlyphs">×</text>
<text x="39.12" y="-0.25" font-size="16.75" textLength="19.02" lengthAdjust="spacingAndGlyphs">10</text>
<text x="58.47" y="-5.67" font-size="11.75" textLength="12.87" lengthAdjust="spacingAndGlyphs">30</text>
</g>
<g transform="translate(812.30 579.40) rotate(-90)">
<text x="-2.11" y="0.00" font-size="16.75" textLength="29.04" lengthAdjust="spacingAndGlyphs">(cm</text>
<path d="M27.40 -9.80H32.90" stroke="#000" stroke-width="1.0"/>
<text x="35.61" y="-6.16" font-size="11.75" textLength="5.71" lengthAdjust="spacingAndGlyphs">2</text>
<text x="42.70" y="0.00" font-size="16.75" textLength="7.67" lengthAdjust="spacingAndGlyphs">s</text>
<path d="M51.40 -9.80H58.90" stroke="#000" stroke-width="1.0"/>
<text x="59.89" y="-6.22" font-size="11.75" textLength="5.29" lengthAdjust="spacingAndGlyphs">1</text>
<text x="66.50" y="0.00" font-size="16.75" textLength="4.93" lengthAdjust="spacingAndGlyphs">/</text>
<text x="72.46" y="0.00" font-size="16.75" font-style="italic" textLength="24.46" lengthAdjust="spacingAndGlyphs">mA</text>
<text x="97.60" y="-6.16" font-size="11.75" textLength="5.84" lengthAdjust="spacingAndGlyphs">2</text>
<text x="105.59" y="0.00" font-size="16.75" textLength="4.78" lengthAdjust="spacingAndGlyphs">)</text>
</g>
<path d="M165.50 623V778.50 M236.50 623V778.50 M308.50 623V778.50 M379.50 623V778.50 M450.50 623V778.50 M521.50 623V778.50 M592.50 623V778.50 M663.50 623V778.50 M97 727.50H734.50 M97 677.50H734.50 M97 626.50H734.50" stroke="#a8a8a8" stroke-width="1" stroke-dasharray="1 1" fill="none"/>
<path d="M118.50 778.50v-5 M142.50 778.50v-5 M165.50 778.50v-9 M189.50 778.50v-5 M213.50 778.50v-5 M236.50 778.50v-9 M260.50 778.50v-5 M284.50 778.50v-5 M308.50 778.50v-9 M331.50 778.50v-5 M355.50 778.50v-5 M379.50 778.50v-9 M402.50 778.50v-5 M426.50 778.50v-5 M450.50 778.50v-9 M473.50 778.50v-5 M497.50 778.50v-5 M521.50 778.50v-9 M544.50 778.50v-5 M568.50 778.50v-5 M592.50 778.50v-9 M616.50 778.50v-5 M639.50 778.50v-5 M663.50 778.50v-9 M687.50 778.50v-5 M710.50 778.50v-5" stroke="#000" stroke-width="0.8" fill="none"/>
<path d="M95.50 727.50h9 M95.50 677.50h9 M95.50 626.50h9" stroke="#000" stroke-width="0.8" fill="none"/>
<path d="M95.50 767.50h5 M95.50 757.50h5 M95.50 747.50h5 M95.50 737.50h5 M95.50 717.50h5 M95.50 707.50h5 M95.50 697.50h5 M95.50 687.50h5 M95.50 667.50h5 M95.50 656.50h5 M95.50 646.50h5 M95.50 636.50h5" stroke="#000" stroke-width="0.8" fill="none"/>
<path d="M734.50 750.50h-9 M734.50 721.50h-9 M734.50 692.50h-9 M734.50 664.50h-9 M734.50 635.50h-9" stroke="#000" stroke-width="0.8" fill="none"/>
<path d="M734.50 771.50h-5 M734.50 764.50h-5 M734.50 757.50h-5 M734.50 743.50h-5 M734.50 735.50h-5 M734.50 728.50h-5 M734.50 714.50h-5 M734.50 707.50h-5 M734.50 700.50h-5 M734.50 685.50h-5 M734.50 678.50h-5 M734.50 671.50h-5 M734.50 656.50h-5 M734.50 649.50h-5 M734.50 642.50h-5 M734.50 628.50h-5" stroke="#000" stroke-width="0.8" fill="none"/>
<path d="M95.5 645.0H662.8" stroke="#7a7a7a" stroke-width="1.1" fill="none"/>
<polyline points="95.50,646.80 662.80,646.80 662.80,656.30" stroke="#008000" stroke-width="1.8" fill="none"/>
<polyline points="95.50,656.30 662.80,656.30 662.80,777.80 734.50,777.80" stroke="#ffa500" stroke-width="1.8" fill="none"/>
<rect x="95.50" y="621.50" width="639.00" height="157.00" fill="none" stroke="#000" stroke-width="1.2"/>
<text x="64.01" y="733.15" font-size="16.67">500</text>
<text x="54.70" y="682.85" font-size="16.67">1000</text>
<text x="54.70" y="632.55" font-size="16.67">1500</text>
<text x="738.29" y="756.10" font-size="16.67">20</text>
<text x="738.73" y="727.35" font-size="16.67">40</text>
<text x="738.29" y="698.60" font-size="16.67">60</text>
<text x="738.35" y="669.85" font-size="16.67">80</text>
<text x="737.85" y="641.10" font-size="16.67">100</text>
<rect x="101.7" y="730.6" width="98.6" height="41.6" rx="2" fill="#fff" fill-opacity="0.8" stroke="#cccccc" stroke-width="1"/>
<path d="M105 741H130.8" stroke="#008000" stroke-width="1.6"/>
<path d="M105 759.7H130.8" stroke="#ffa500" stroke-width="1.6"/>
<text x="140.03" y="744.90" font-size="13.50" textLength="55.18" lengthAdjust="spacingAndGlyphs">delivered</text>
<text x="139.74" y="763.60" font-size="13.50" textLength="52.25" lengthAdjust="spacingAndGlyphs">recorded</text>
<g transform="translate(798.80 699.30) rotate(-90)">
<text x="-52.41" y="0.00" font-size="16.67" textLength="104.52" lengthAdjust="spacingAndGlyphs">Efficiency (%)</text>
</g>
<g transform="translate(42.90 761.10) rotate(-90)">
<text x="-1.21" y="0.00" font-size="17.00" textLength="24.38" lengthAdjust="spacingAndGlyphs">int.</text>
<path d="M63.6 -14.3 L65.3 -12.5 Q52.3 0.7 37.7 0.7 Q33.7 0.7 28.9 -0.4 Q21.8 -1.9 17.9 -1.9 Q15.7 -1.9 10.5 -1.0 Q5.3 -0.0 3.0 -0.0 L3.6 -2.4 Q9.1 -2.4 11.4 -11.7 L18.4 -40.1 Q20.1 -47.0 23.7 -52.4 Q27.3 -57.8 31.6 -60.8 Q36.0 -63.9 40.4 -65.5 Q44.8 -67.0 48.8 -67.0 Q53.8 -67.0 56.1 -63.8 Q58.5 -60.6 58.5 -56.0 Q58.5 -52.3 56.1 -50.0 Q53.8 -47.7 50.4 -47.7 Q48.2 -47.7 46.8 -49.2 Q45.4 -50.7 45.4 -52.8 Q45.4 -54.4 46.2 -55.5 Q47.0 -56.6 47.9 -56.9 Q48.8 -57.3 49.6 -57.9 Q50.4 -58.5 50.4 -59.2 Q50.4 -63.0 44.6 -63.0 Q39.4 -63.0 36.1 -59.1 Q32.8 -55.3 31.1 -48.9 Q29.4 -42.6 28.0 -35.7 Q26.7 -28.8 24.2 -21.3 Q21.7 -13.8 18.1 -9.2 L18.1 -8.8 Q21.3 -11.0 29.5 -11.0 Q34.8 -11.0 38.4 -8.5 Q42.1 -6.0 46.3 -6.0 Q54.8 -6.0 63.6 -14.3 Z" transform="translate(28.82 0.59) scale(0.1268 0.1581)" fill="#000" stroke="#000" stroke-width="2.6"/>
<text x="38.30" y="0.00" font-size="17.00" textLength="32.17" lengthAdjust="spacingAndGlyphs">/day</text>
<text x="75.11" y="0.00" font-size="17.00" textLength="25.10" lengthAdjust="spacingAndGlyphs">(pb</text>
<path d="M101.40 -9.40H108.10" stroke="#000" stroke-width="1.0"/>
<text x="109.47" y="-5.72" font-size="11.75" textLength="6.20" lengthAdjust="spacingAndGlyphs">1</text>
<text x="117.63" y="0.00" font-size="17.00" textLength="3.27" lengthAdjust="spacingAndGlyphs">)</text>
</g>
<text x="144.50" y="792.80" font-size="16.67" textLength="42.81" lengthAdjust="spacingAndGlyphs">17:00</text>
<text x="215.58" y="792.80" font-size="16.67" textLength="42.81" lengthAdjust="spacingAndGlyphs">18:00</text>
<text x="286.66" y="792.80" font-size="16.67" textLength="42.81" lengthAdjust="spacingAndGlyphs">19:00</text>
<text x="357.74" y="792.80" font-size="16.67" textLength="42.81" lengthAdjust="spacingAndGlyphs">20:00</text>
<text x="428.82" y="792.80" font-size="16.67" textLength="42.81" lengthAdjust="spacingAndGlyphs">21:00</text>
<text x="499.90" y="792.80" font-size="16.67" textLength="42.81" lengthAdjust="spacingAndGlyphs">22:00</text>
<text x="570.98" y="792.80" font-size="16.67" textLength="42.81" lengthAdjust="spacingAndGlyphs">23:00</text>
<text x="642.06" y="792.80" font-size="16.67" textLength="42.81" lengthAdjust="spacingAndGlyphs">00:00</text>
<text x="713.14" y="792.80" font-size="16.67" textLength="42.81" lengthAdjust="spacingAndGlyphs">01:00</text>
<text x="663.08" y="811.90" font-size="16.75" textLength="84.80" lengthAdjust="spacingAndGlyphs">2026/04/16</text>
<text x="30.71" y="831.10" font-size="17.25" textLength="41.19" lengthAdjust="spacingAndGlyphs">HER :</text>
<text x="94.54" y="831.10" font-size="17.00" textLength="118.53" lengthAdjust="spacingAndGlyphs">Machine Tuning</text>
<text x="30.72" y="850.80" font-size="17.25" textLength="38.43" lengthAdjust="spacingAndGlyphs">LER :</text>
<text x="94.54" y="850.80" font-size="17.00" textLength="118.53" lengthAdjust="spacingAndGlyphs">Machine Tuning</text>
</svg>
</body></html>
